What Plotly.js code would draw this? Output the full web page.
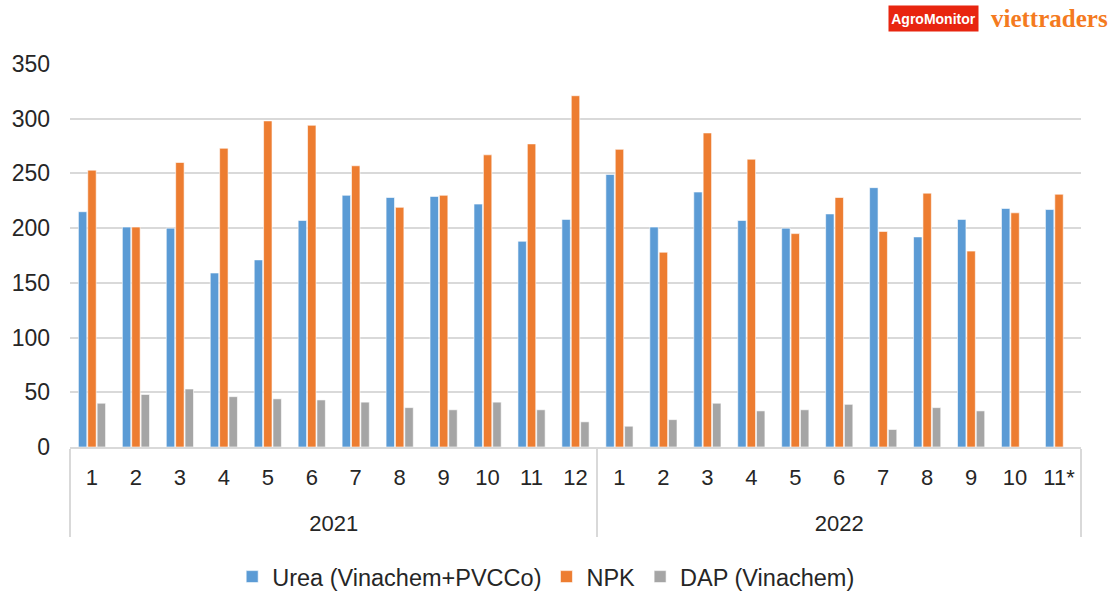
<!DOCTYPE html>
<html>
<head>
<meta charset="utf-8">
<script src="https://cdn.plot.ly/plotly-3.0.1.min.js"></script>
<style>html,body{margin:0;padding:0;background:#fff;}#chart{width:1110px;height:594px;}</style>
</head>
<body>
<div id="chart"></div>
<script>
const years = ["2021","2021","2021","2021","2021","2021","2021","2021","2021","2021","2021","2021",
               "2022","2022","2022","2022","2022","2022","2022","2022","2022","2022","2022"];
const months = ["1","2","3","4","5","6","7","8","9","10","11","12",
                "1","2","3","4","5","6","7","8","9","10","11*"];
const urea = [215,201,200,159,171,207,230,228,229,222,188,208,
              249,201,233,207,200,213,237,192,208,218,217];
const npk  = [253,201,260,273,298,294,257,219,230,267,277,321,
              272,178,287,263,195,228,197,232,179,214,231];
const dap  = [40,48,53,46,44,43,41,36,34,41,34,23,
              19,25,40,33,34,39,16,36,33,null,null];
const seriesNames = ["Urea (Vinachem+PVCCo)","NPK","DAP (Vinachem)"];
const colors = ["#5B9BD5","#ED7D31","#A5A5A5"];

// outer level labels pushed one line down (Excel-style spacing)
const yearLabels = years.map(y => "<br>" + y);
const x = [yearLabels, months];
const traces = [urea, npk, dap].map((v,i)=>({
  type:"bar", x:x, y:v, name:seriesNames[i],
  marker:{color:colors[i], line:{color:"rgba(255,255,255,0.6)", width:1}},
  hoverinfo:"y+name"
}));

const font = "Liberation Sans, Arial, sans-serif";
const layout = {
  width:1110, height:594,
  margin:{l:70, r:29, t:64, b:147, autoexpand:false},
  paper_bgcolor:"#fff", plot_bgcolor:"#fff",
  barmode:"group", bargap:0.36, bargroupgap:0.1,
  font:{family:font, color:"#262626", size:22},
  xaxis:{
    type:"multicategory",
    showline:true, linecolor:"#d9d9d9", linewidth:2,
    showdividers:true, dividercolor:"#d9d9d9", dividerwidth:2,
    ticklabelstandoff:10,
    tickfont:{family:font, size:22, color:"#262626"},
    ticks:"", showgrid:false
  },
  yaxis:{
    range:[0,350], dtick:50, tick0:0,
    showgrid:true, gridcolor:"#d9d9d9", gridwidth:2,
    zeroline:false, showline:false, ticks:"",
    ticklabelstandoff:19,
    tickfont:{family:font, size:23, color:"#262626"}
  },
  showlegend:true,
  legend:{orientation:"h", x:0.471, xanchor:"center", y:-0.339, yanchor:"middle",
          font:{family:font, size:23.5, color:"#262626"}, traceorder:"normal"},
  annotations:[
    {xref:"paper", yref:"paper", x:(933-70)/1011, y:(447-18.5)/383, xanchor:"center", yanchor:"middle",
     text:"<b>AgroMonitor</b>", showarrow:false,
     font:{family:"Liberation Sans Narrow, Liberation Sans, Arial, sans-serif", size:14, color:"#fff"},
     bgcolor:"#E8250F", width:89, height:25, borderpad:0},
    {xref:"paper", yref:"paper", x:(1049-70)/1011, y:(447-19)/383, xanchor:"center", yanchor:"middle",
     text:"<b>viettraders</b>", showarrow:false,
     font:{family:"Liberation Serif, DejaVu Serif, serif", size:25, color:"#F47A20"}}
  ]
};
Plotly.newPlot("chart", traces, layout, {displayModeBar:false, staticPlot:true});
</script>
</body>
</html>
